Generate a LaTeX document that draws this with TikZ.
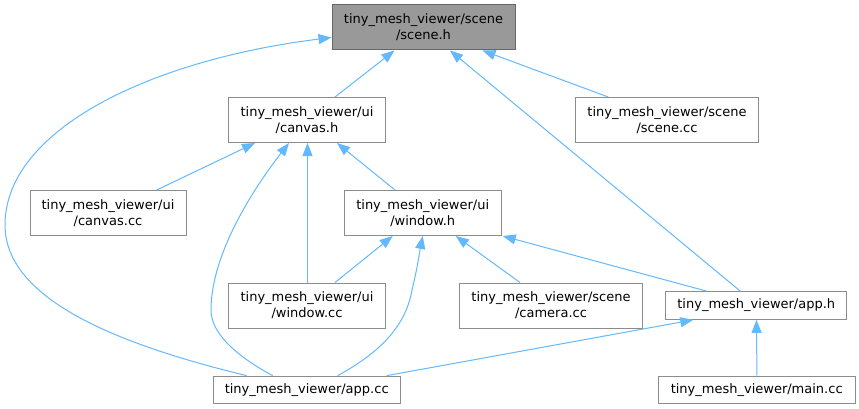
\documentclass[tikz,border=0pt]{standalone}
\usepackage{fontspec}
\setmainfont{DejaVu Sans}
\usetikzlibrary{arrows.meta}
\definecolor{edgeblue}{HTML}{63B8FF}
\definecolor{boxborder}{HTML}{8C8C8C}
\definecolor{rootfill}{HTML}{999999}
\definecolor{rootborder}{HTML}{666666}
\tikzset{
  box/.style={draw=boxborder, line width=1pt, fill=white, inner sep=0pt, align=center,
    font=\fontsize{13}{16}\selectfont, minimum height=45pt},
  onebox/.style={box, minimum height=27.7pt},
  rootbox/.style={box, fill=rootfill, draw=rootborder},
  dep/.style={draw=edgeblue, line width=1pt, -{Triangle[length=13pt,width=10pt]}}
}
\begin{document}
\begin{tikzpicture}[x=1pt,y=-1pt]
\useasboundingbox (0,0) rectangle (859,409);
\node[rootbox, minimum width=183pt] (sceneh) at (423.5,27.5) {tiny\_mesh\_viewer/scene\\/scene.h};
\node[box, minimum width=157pt] (canvash) at (307,120) {tiny\_mesh\_viewer/ui\\/canvas.h};
\node[box, minimum width=183pt] (scenecc) at (667,120) {tiny\_mesh\_viewer/scene\\/scene.cc};
\node[box, minimum width=156pt] (canvascc) at (108,213) {tiny\_mesh\_viewer/ui\\/canvas.cc};
\node[box, minimum width=157pt] (windowh) at (422.7,213) {tiny\_mesh\_viewer/ui\\/window.h};
\node[box, minimum width=157pt] (windowcc) at (307,305.5) {tiny\_mesh\_viewer/ui\\/window.cc};
\node[box, minimum width=183pt] (cameracc) at (551,305.5) {tiny\_mesh\_viewer/scene\\/camera.cc};
\node[onebox, minimum width=181pt] (apph) at (756.3,305.5) {tiny\_mesh\_viewer/app.h};
\node[onebox, minimum width=187pt] (appcc) at (306.7,390) {tiny\_mesh\_viewer/app.cc};
\node[onebox, minimum width=197pt] (maincc) at (756.7,390) {tiny\_mesh\_viewer/main.cc};

\draw[dep] ([xshift=28pt]canvash.north) -- ([xshift=-29pt]sceneh.south);
\draw[dep] ([xshift=-58.7pt]scenecc.north) -- ([xshift=59pt]sceneh.south);
\draw[dep] ([xshift=-16pt]apph.north) -- ([xshift=26.5pt]sceneh.south);
\draw[dep] ([xshift=-60pt]appcc.north) .. controls (120,345) and (5,300) .. (5,225)
  .. controls (5,130) and (150,60) .. ([yshift=-10pt]sceneh.west);
\draw[dep] ([xshift=48.7pt]canvascc.north) -- ([xshift=-52pt]canvash.south);
\draw[dep] ([xshift=0.5pt]windowcc.north) -- ([xshift=0.5pt]canvash.south);
\draw[dep] ([xshift=-34pt]appcc.north) .. controls (240,358) and (211,335) .. (211,310)
  .. controls (211,250) and (260,180) .. ([xshift=-18pt]canvash.south);
\draw[dep] ([xshift=-27.7pt]windowh.north) -- ([xshift=30pt]canvash.south);
\draw[dep] ([xshift=28pt]windowcc.north) -- ([xshift=-30pt]windowh.south);
\draw[dep] ([xshift=31pt]appcc.north) .. controls (375,355) and (405,330) .. (412,290)
  .. controls (417,270) and (420,250) .. (windowh.south);
\draw[dep] ([xshift=-31pt]cameracc.north) -- ([xshift=33pt]windowh.south);
\draw[dep] ([xshift=-49.6pt]apph.north) -- ([xshift=1pt]windowh.south east);
\draw[dep] ([xshift=80pt]appcc.north) -- ([xshift=-63pt]apph.south);
\draw[dep] ([xshift=0.2pt]maincc.north) -- ([xshift=0.2pt]apph.south);
\end{tikzpicture}
\end{document}
